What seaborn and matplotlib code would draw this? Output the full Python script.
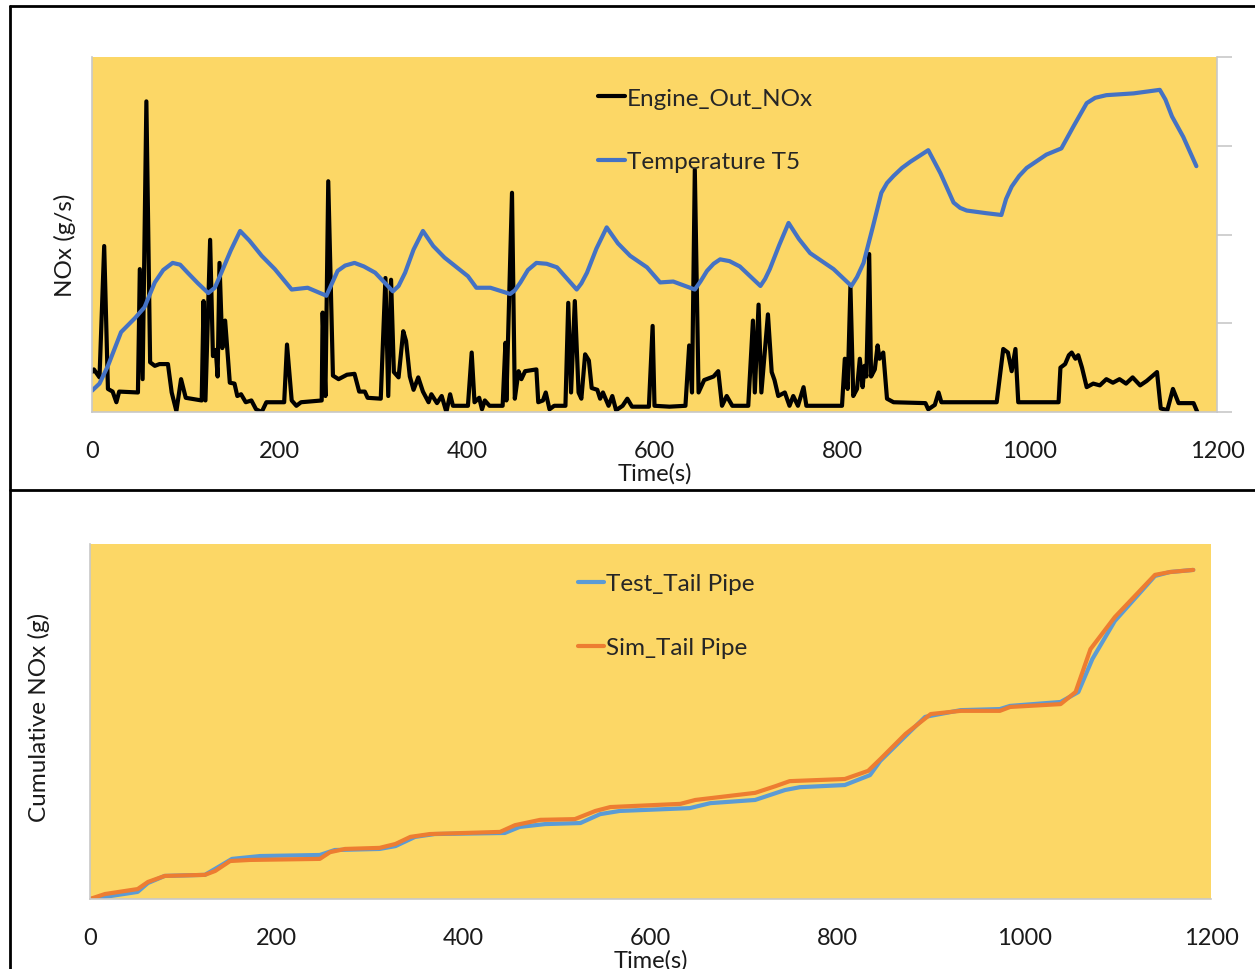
import matplotlib
matplotlib.use("Agg")
import matplotlib.pyplot as plt
import seaborn as sns
from matplotlib.lines import Line2D

# ---------------- data ----------------
nox_time = [0, 2, 8, 13, 17, 22, 26, 29, 49, 51, 54, 58, 62, 67, 72, 81, 85, 90, 95, 100,
            117, 119, 121, 126, 129, 132, 134, 136, 139, 142, 147, 152, 155, 159, 164, 170,
            175, 181, 186, 205, 208, 213, 218, 223, 245, 246, 249, 252, 257, 263, 272, 280,
            285, 291, 294, 308, 313, 316, 319, 322, 327, 332, 335, 339, 343, 348, 353, 359,
            362, 368, 373, 378, 382, 385, 401, 405, 408, 413, 416, 419, 424, 438, 441, 442,
            448, 451, 455, 458, 462, 474, 476, 481, 484, 488, 493, 505, 508, 511, 515, 519,
            522, 526, 530, 533, 539, 542, 545, 551, 555, 559, 566, 571, 576, 594, 598, 600,
            616, 633, 637, 640, 643, 647, 653, 663, 668, 672, 677, 683, 700, 705, 707, 711,
            714, 721, 725, 728, 732, 739, 744, 748, 753, 759, 762, 800, 803, 806, 809, 812,
            816, 819, 822, 824, 826, 829, 831, 835, 838, 840, 844, 848, 855, 889, 892, 899,
            903, 906, 965, 972, 977, 981, 985, 988, 1031, 1033, 1038, 1042, 1045, 1049, 1052,
            1056, 1061, 1068, 1075, 1082, 1089, 1096, 1103, 1110, 1118, 1125, 1136, 1140,
            1147, 1153, 1159, 1175, 1179]
nox_value = [0.45, 0.48, 0.39, 1.87, 0.26, 0.23, 0.11, 0.23, 0.22, 1.61, 0.37, 3.50, 0.56,
             0.52, 0.54, 0.54, 0.22, 0.01, 0.37, 0.16, 0.13, 1.25, 0.13, 1.94, 0.63, 0.70,
             0.40, 1.68, 0.72, 1.03, 0.33, 0.32, 0.18, 0.20, 0.11, 0.13, 0.03, 0.00, 0.11,
             0.11, 0.76, 0.13, 0.07, 0.11, 0.13, 1.12, 0.18, 2.60, 0.41, 0.37, 0.42, 0.43,
             0.23, 0.23, 0.16, 0.15, 1.51, 0.18, 1.49, 0.45, 0.39, 0.91, 0.80, 0.40, 0.25,
             0.39, 0.23, 0.11, 0.20, 0.10, 0.18, 0.00, 0.20, 0.07, 0.07, 0.67, 0.11, 0.16,
             0.03, 0.13, 0.07, 0.07, 0.78, 0.13, 2.47, 0.15, 0.46, 0.37, 0.46, 0.48, 0.11,
             0.13, 0.22, 0.03, 0.07, 0.07, 1.23, 0.22, 1.25, 0.22, 0.15, 0.65, 0.58, 0.27,
             0.25, 0.15, 0.22, 0.07, 0.18, 0.02, 0.07, 0.15, 0.06, 0.06, 0.97, 0.07, 0.06,
             0.07, 0.75, 0.22, 2.73, 0.22, 0.36, 0.40, 0.46, 0.07, 0.18, 0.07, 0.07, 1.03,
             0.22, 1.21, 0.22, 1.10, 0.45, 0.36, 0.18, 0.22, 0.07, 0.18, 0.07, 0.28, 0.07,
             0.07, 0.60, 0.26, 1.42, 0.18, 0.26, 0.60, 0.28, 0.52, 0.40, 1.78, 0.40, 0.48,
             0.75, 0.60, 0.67, 0.15, 0.11, 0.10, 0.03, 0.08, 0.22, 0.11, 0.11, 0.71, 0.67,
             0.46, 0.71, 0.11, 0.11, 0.50, 0.54, 0.64, 0.67, 0.60, 0.64, 0.50, 0.28, 0.32,
             0.30, 0.37, 0.33, 0.37, 0.32, 0.39, 0.30, 0.35, 0.45, 0.04, 0.02, 0.26, 0.10,
             0.10, 0.00]

t5_time = [0, 8, 17, 31, 46, 56, 67, 76, 86, 94, 102, 113, 124, 131, 138, 148, 158, 168, 181,
           195, 213, 230, 250, 256, 262, 270, 280, 290, 302, 321, 327, 334, 343, 353, 364, 376,
           401, 410, 425, 446, 451, 457, 465, 474, 485, 496, 517, 522, 528, 538, 549, 561,
           574, 592, 606, 620, 643, 649, 656, 663, 670, 680, 691, 713, 718, 723, 733, 743,
           754, 766, 791, 810, 816, 823, 833, 842, 848, 855, 864, 873, 892, 905, 919, 926,
           933, 954, 970, 975, 981, 989, 997, 1018, 1034, 1047, 1061, 1070, 1082, 1111,
           1139, 1145, 1152, 1164, 1178]
t5_value = [0.24, 0.32, 0.52, 0.90, 1.06, 1.18, 1.46, 1.60, 1.68, 1.66, 1.57, 1.45, 1.34,
            1.40, 1.57, 1.82, 2.04, 1.93, 1.76, 1.61, 1.38, 1.40, 1.31, 1.45, 1.59, 1.65,
            1.68, 1.64, 1.57, 1.36, 1.42, 1.57, 1.83, 2.04, 1.87, 1.74, 1.53, 1.40, 1.40,
            1.33, 1.37, 1.46, 1.60, 1.68, 1.67, 1.63, 1.38, 1.45, 1.57, 1.84, 2.08, 1.90,
            1.76, 1.63, 1.46, 1.47, 1.38, 1.47, 1.59, 1.67, 1.72, 1.70, 1.64, 1.42, 1.50,
            1.61, 1.88, 2.13, 1.95, 1.79, 1.61, 1.42, 1.52, 1.68, 2.09, 2.47, 2.58, 2.66,
            2.75, 2.82, 2.95, 2.69, 2.36, 2.30, 2.27, 2.24, 2.22, 2.40, 2.54, 2.66, 2.75,
            2.90, 2.97, 3.22, 3.48, 3.54, 3.57, 3.59, 3.63, 3.52, 3.33, 3.10, 2.77]

sim_time = [0, 16, 51, 62, 80, 123, 134, 150, 171, 246, 257, 273, 310, 327, 343, 364, 439,
            455, 482, 519, 541, 557, 632, 648, 712, 734, 749, 808, 833, 846, 873, 900, 932,
            974, 985, 1039, 1055, 1071, 1097, 1140, 1156, 1181]
sim_value = [0, 1.4, 2.8, 4.8, 6.5, 6.8, 7.9, 10.7, 11.0, 11.3, 13.2, 14.1, 14.4, 15.5,
             17.5, 18.3, 18.9, 20.8, 22.3, 22.5, 24.8, 25.9, 26.8, 27.9, 29.9, 31.8, 33.2,
             33.8, 36.1, 39.4, 46.5, 52.1, 53.0, 53.0, 54.1, 54.9, 58.3, 70.4, 79.4, 91.3,
             92.1, 92.7]

test_time = [0, 16, 51, 62, 80, 123, 134, 152, 182, 246, 262, 310, 327, 348, 369, 444, 460,
             487, 525, 546, 567, 642, 664, 712, 744, 760, 808, 835, 846, 873, 894, 932, 974,
             985, 1039, 1058, 1073, 1097, 1140, 1156, 1181]
test_value = [0, 0.6, 2.0, 4.5, 6.5, 6.8, 8.5, 11.3, 12.1, 12.4, 13.8, 14.1, 14.9, 17.5,
              18.3, 18.6, 20.3, 21.1, 21.4, 23.9, 24.8, 25.6, 27.0, 27.9, 30.7, 31.5, 32.1,
              34.9, 38.9, 45.9, 51.3, 53.2, 53.5, 54.4, 55.5, 58.3, 67.6, 78.3, 91.0, 92.1,
              92.7]

x_ticks = [0, 200, 400, 600, 800, 1000, 1200]

# ---------------- style ----------------
sns.set_theme(style="white")
plt.rcParams['font.family'] = ['Lato', 'DejaVu Sans']

YELLOW = "#FCD766"
GRAY = "#C8C8C8"
TXT = "#1A1A1A"

fig = plt.figure(figsize=(12.55, 9.70), dpi=100)
ax1 = fig.add_axes([92 / 1255, 1 - 413 / 970, 1125 / 1255, 355 / 970])
ax2 = fig.add_axes([90 / 1255, 1 - 900 / 970, 1121 / 1255, 355 / 970])

round_kw = dict(solid_joinstyle="round", solid_capstyle="round")

# ---------- top panel ----------
sns.lineplot(x=nox_time, y=nox_value, ax=ax1, color="black", lw=3.0,
             label="Engine_Out_NOx", sort=False, **round_kw)
sns.lineplot(x=t5_time, y=t5_value, ax=ax1, color="#4472C4", lw=3.0,
             label="Temperature T5", sort=False, **round_kw)
ax1.set_xlim(0, 1200)
ax1.set_ylim(0, 4)

# ---------- bottom panel ----------
sns.lineplot(x=test_time, y=test_value, ax=ax2, color="#5B9BD5", lw=3.0,
             label="Test_Tail Pipe", sort=False, **round_kw)
sns.lineplot(x=sim_time, y=sim_value, ax=ax2, color="#ED7D31", lw=3.0,
             label="Sim_Tail Pipe", sort=False, **round_kw)
ax2.set_xlim(0, 1200)
ax2.set_ylim(0, 100)

for ax in (ax1, ax2):
    ax.set_facecolor(YELLOW)
    ax.set_xticks(x_ticks)
    ax.set_xticklabels([str(v) for v in x_ticks])
    ax.tick_params(axis="x", length=0, labelsize=17, pad=20, colors=TXT)
    ax.spines["top"].set_visible(False)
    for s in ("left", "bottom", "right"):
        ax.spines[s].set_color(GRAY)
        ax.spines[s].set_linewidth(1.2)
    ax.grid(False)

ax1.yaxis.tick_right()
ax1.set_yticks([0, 1, 2, 3, 4])
ax1.set_yticklabels([])
ax1.tick_params(axis="y", right=True, left=False, length=11, width=1.2, color=GRAY)

ax2.spines["right"].set_visible(False)
ax2.set_yticks([])

ax1.set_xlabel("Time(s)", fontsize=17, color=TXT)
ax1.xaxis.set_label_coords(0.5, -0.142)
ax1.set_ylabel("NOx (g/s)", fontsize=17.5, color=TXT)
ax1.yaxis.set_label_position("left")
ax1.yaxis.set_label_coords(-0.014, 0.473)

ax2.set_xlabel("Time(s)", fontsize=17, color=TXT)
ax2.xaxis.set_label_coords(0.5, -0.14)
ax2.set_ylabel("Cumulative NOx (g)", fontsize=17.5, color=TXT)
ax2.yaxis.set_label_coords(-0.036, 0.515)

leg_kw = dict(loc="upper left", frameon=False, fontsize=17.5, handlelength=1.1,
              handletextpad=0.08, labelspacing=1.75, borderpad=0, borderaxespad=0)
ax1.legend(bbox_to_anchor=(0.4498, 0.914), **leg_kw)
ax2.legend(bbox_to_anchor=(0.435, 0.917), **leg_kw)

# ---------- panel frame lines ----------
lw = 2.0
fig.add_artist(Line2D([10 / 1255, 1], [1 - 7 / 970, 1 - 7 / 970],
                      transform=fig.transFigure, color="black", lw=lw))
fig.add_artist(Line2D([10 / 1255, 1], [1 - 491 / 970, 1 - 491 / 970],
                      transform=fig.transFigure, color="black", lw=lw))
fig.add_artist(Line2D([10 / 1255, 10 / 1255], [0, 1 - 7 / 970],
                      transform=fig.transFigure, color="black", lw=lw))

fig.savefig("out.png", dpi=100, facecolor="white")
